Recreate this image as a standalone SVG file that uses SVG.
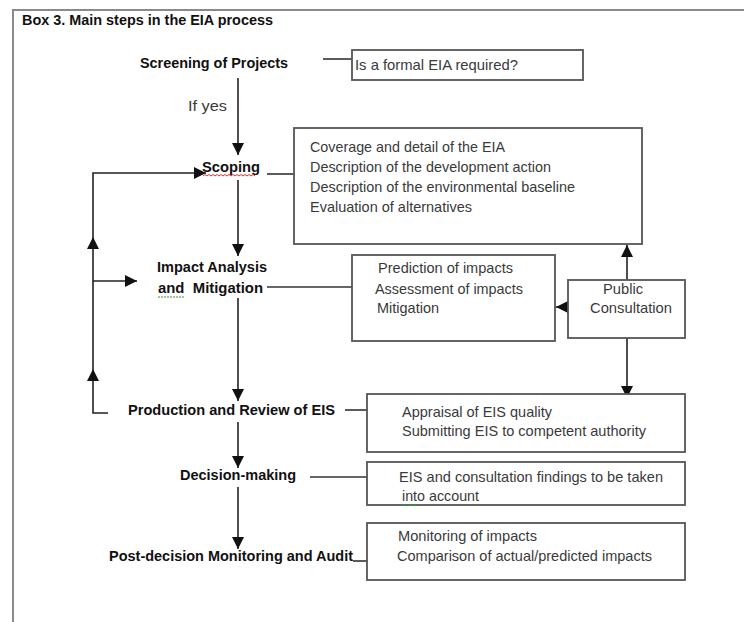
<svg xmlns="http://www.w3.org/2000/svg" width="744" height="622" viewBox="0 0 744 622">
<style>
  .frame { fill: none; stroke: #8a8a8a; stroke-width: 2; }
  .box { fill: #ffffff; stroke: #555555; stroke-width: 1.8; }
  .step { font-family: "Liberation Sans", Arial, sans-serif; font-weight: bold; font-size: 15px; fill: #111111; }
  .note { font-family: "Liberation Sans", Arial, sans-serif; font-size: 15px; fill: #3a3a3a; }
  .line { fill: none; stroke: #333333; stroke-width: 1.6; }
  .arrow { fill: none; stroke: #222222; stroke-width: 1.6; marker-end: url(#head); }
  .head { fill: #111111; }
  .spell-red { fill: none; stroke: #e03030; stroke-width: 1; }
  .spell-green { fill: none; stroke: #30a030; stroke-width: 1; stroke-dasharray: 2 1; }
</style>
<defs>
  <marker id="head" viewBox="0 0 12 12" refX="12" refY="6" markerWidth="12" markerHeight="12" markerUnits="userSpaceOnUse" orient="auto">
    <path d="M0,0 L12,6 L0,12 z" class="head"/>
  </marker>
</defs>

<rect width="744" height="622" fill="#ffffff"/>
<path class="frame" d="M13,622 V10 H744"/>
<text class="step" x="22" y="25" textLength="251" lengthAdjust="spacingAndGlyphs">Box 3. Main steps in the EIA process</text>

<g id="connectors">
  <line class="arrow" x1="238" y1="78" x2="238" y2="155"/>
  <line class="arrow" x1="238" y1="180" x2="238" y2="256"/>
  <line class="arrow" x1="238" y1="298" x2="238" y2="401"/>
  <line class="arrow" x1="238" y1="422" x2="238" y2="468"/>
  <line class="arrow" x1="238" y1="487" x2="238" y2="549"/>
  <path class="arrow" d="M108,413 H93 V173 H206"/>
  <polygon class="head" points="93,237 87,249 99,249"/>
  <polygon class="head" points="93,369 87,381 99,381"/>
  <line class="arrow" x1="93" y1="281" x2="137" y2="281"/>
  <line class="arrow" x1="627" y1="280" x2="627" y2="245"/>
  <line class="arrow" x1="568" y1="307" x2="556" y2="307"/>
  <line class="arrow" x1="627" y1="338" x2="627" y2="398"/>
  <line class="line" x1="323" y1="59" x2="352" y2="59"/>
  <line class="line" x1="267" y1="174" x2="294" y2="174"/>
  <line class="line" x1="267" y1="287" x2="352" y2="287"/>
  <line class="line" x1="345" y1="410" x2="367" y2="410"/>
  <line class="line" x1="310" y1="477" x2="367" y2="477"/>
  <line class="line" x1="353" y1="561" x2="367" y2="561"/>
</g>

<g id="screening">
  <text class="step" x="140" y="68" textLength="148" lengthAdjust="spacingAndGlyphs">Screening of Projects</text>
  <text class="note" x="188" y="111" textLength="39" lengthAdjust="spacingAndGlyphs">If yes</text>
</g>
<g id="screening-box">
  <rect class="box" x="352" y="50" width="231" height="30"/>
  <text class="note" x="355" y="70" textLength="163" lengthAdjust="spacingAndGlyphs">Is a formal EIA required?</text>
</g>

<g id="scoping">
  <text class="step" x="202" y="172" textLength="58" lengthAdjust="spacingAndGlyphs">Scoping</text>
  <path class="spell-red" d="M203,176 l2,-1.5 l2,1.5 l2,-1.5 l2,1.5 l2,-1.5 l2,1.5 l2,-1.5 l2,1.5 l2,-1.5 l2,1.5 l2,-1.5 l2,1.5 l2,-1.5 l2,1.5 l2,-1.5 l2,1.5 l2,-1.5 l2,1.5 l2,-1.5 l2,1.5 l2,-1.5 l2,1.5 l2,-1.5 l2,1.5 l2,-1.5 l2,1.5"/>
</g>
<g id="scoping-box">
  <rect class="box" x="294" y="128" width="348" height="116"/>
  <text class="note" x="310" y="152" textLength="195" lengthAdjust="spacingAndGlyphs">Coverage and detail of the EIA</text>
  <text class="note" x="310" y="172" textLength="241" lengthAdjust="spacingAndGlyphs">Description of the development action</text>
  <text class="note" x="310" y="192" textLength="265" lengthAdjust="spacingAndGlyphs">Description of the environmental baseline</text>
  <text class="note" x="310" y="212" textLength="162" lengthAdjust="spacingAndGlyphs">Evaluation of alternatives</text>
</g>

<g id="impact">
  <text class="step" x="157" y="272" textLength="110" lengthAdjust="spacingAndGlyphs">Impact Analysis</text>
  <text class="step" x="158" y="293" textLength="105" lengthAdjust="spacingAndGlyphs" xml:space="preserve">and  Mitigation</text>
  <line class="spell-green" x1="158" y1="297" x2="185" y2="297"/>
</g>
<g id="impact-box">
  <rect class="box" x="352" y="255" width="203" height="86"/>
  <text class="note" x="378" y="273" textLength="135" lengthAdjust="spacingAndGlyphs">Prediction of impacts</text>
  <text class="note" x="375" y="294" textLength="148" lengthAdjust="spacingAndGlyphs">Assessment of impacts</text>
  <text class="note" x="377" y="313" textLength="62" lengthAdjust="spacingAndGlyphs">Mitigation</text>
</g>

<g id="public-consultation">
  <rect class="box" x="568" y="280" width="117" height="58"/>
  <text class="note" x="603" y="294" textLength="40" lengthAdjust="spacingAndGlyphs">Public</text>
  <text class="note" x="590" y="313" textLength="82" lengthAdjust="spacingAndGlyphs">Consultation</text>
</g>

<g id="production">
  <text class="step" x="128" y="415" textLength="207" lengthAdjust="spacingAndGlyphs">Production and Review of EIS</text>
</g>
<g id="production-box">
  <rect class="box" x="367" y="394" width="318" height="58"/>
  <text class="note" x="402" y="417" textLength="150" lengthAdjust="spacingAndGlyphs">Appraisal of EIS quality</text>
  <text class="note" x="402" y="436" textLength="244" lengthAdjust="spacingAndGlyphs">Submitting EIS to competent authority</text>
</g>

<g id="decision">
  <text class="step" x="180" y="480" textLength="116" lengthAdjust="spacingAndGlyphs">Decision-making</text>
</g>
<g id="decision-box">
  <rect class="box" x="367" y="462" width="318" height="43"/>
  <text class="note" x="399" y="482" textLength="264" lengthAdjust="spacingAndGlyphs">EIS and consultation findings to be taken</text>
  <text class="note" x="402" y="501" textLength="77" lengthAdjust="spacingAndGlyphs">into account</text>
  <line class="spell-green" x1="402" y1="505" x2="418" y2="505"/>
</g>

<g id="monitoring">
  <text class="step" x="109" y="561" textLength="244" lengthAdjust="spacingAndGlyphs">Post-decision Monitoring and Audit</text>
</g>
<g id="monitoring-box">
  <rect class="box" x="367" y="523" width="318" height="57"/>
  <text class="note" x="398" y="541" textLength="139" lengthAdjust="spacingAndGlyphs">Monitoring of impacts</text>
  <text class="note" x="397" y="561" textLength="255" lengthAdjust="spacingAndGlyphs">Comparison of actual/predicted impacts</text>
</g>
</svg>
